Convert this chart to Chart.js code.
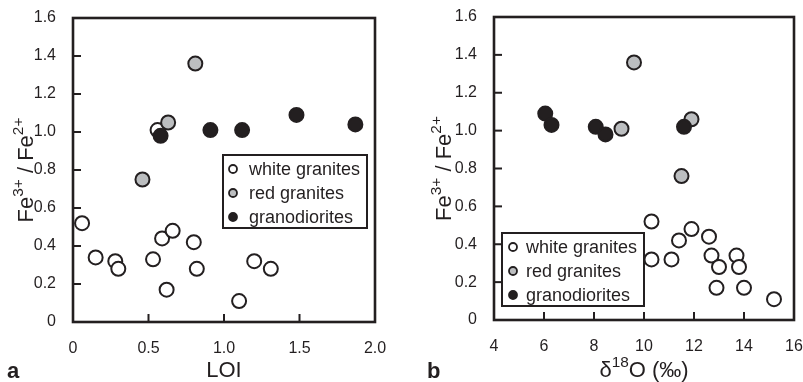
<!DOCTYPE html>
<html>
<head>
<meta charset="utf-8">
<script src="https://cdn.jsdelivr.net/npm/chart.js@4/dist/chart.umd.min.js"></script>
<style>
  body{margin:0;background:#fff;}
  #wrap{position:relative;width:803px;height:382px;}
  canvas{position:absolute;top:0;}
</style>
</head>
<body>
<div id="wrap">
  <canvas id="chartA" width="400" height="382" style="left:0"></canvas>
  <canvas id="chartB" width="403" height="382" style="left:400px"></canvas>
</div>
<script>
// panel a : LOI vs Fe3+/Fe2+
const whiteLoi = [0.06,0.15,0.28,0.30,0.53,0.59,0.66,0.62,0.80,0.82,1.10,1.20,1.31,0.56];
const whiteFeA = [0.52,0.34,0.32,0.28,0.33,0.44,0.48,0.17,0.42,0.28,0.11,0.32,0.28,1.01];
const redLoi = [0.81,0.63,0.46];
const redFeA = [1.36,1.05,0.75];
const granoLoi = [0.58,0.91,1.12,1.48,1.87];
const granoFeA = [0.98,1.01,1.01,1.09,1.04];

// panel b : d18O vs Fe3+/Fe2+
const whiteD18 = [10.3,10.3,11.1,11.4,11.9,12.6,12.7,13.0,12.9,13.7,13.8,14.0,15.2];
const whiteFeB = [0.52,0.32,0.32,0.42,0.48,0.44,0.34,0.28,0.17,0.34,0.28,0.17,0.11];
const redD18 = [9.6,9.1,11.9,11.5];
const redFeB = [1.36,1.01,1.06,0.76];
const granoD18 = [6.05,6.3,8.07,8.46,11.6];
const granoFeB = [1.09,1.03,1.02,0.98,1.02];

const legendNames = ['white granites','red granites','granodiorites'];
const yTicks = [0,0.2,0.4,0.6,0.8,1.0,1.2,1.4,1.6];
const loiTicks = [0,0.5,1,1.5,2];
const d18Ticks = [4,6,8,10,12,14,16];

const ink = '#231f20';
const fills = ['#ffffff','#bcbec0','#231f20'];
const fontFam = '"Liberation Sans", Arial, Helvetica, sans-serif';

function pts(xs, ys){
    return xs.map((x,i)=>({x:x, y:ys[i]}));
}

function fmt(v){
    return v===0 ? '0' : v.toFixed(1);
}

// draws text made of normal and superscript pieces, centred on 0,0
function richText(ctx, parts, size){
    var w = 0;
    parts.forEach(p=>{
        ctx.font = (p.sup ? size*0.7 : size) + 'px ' + fontFam;
        p.w = ctx.measureText(p.t).width;
        w += p.w;
    });
    var x = -w/2;
    ctx.textBaseline = 'alphabetic';
    ctx.textAlign = 'left';
    parts.forEach(p=>{
        ctx.font = (p.sup ? size*0.7 : size) + 'px ' + fontFam;
        ctx.fillText(p.t, x, p.sup ? size*0.35 - size*0.42 : size*0.35);
        x += p.w;
    });
}

const decor = {
    id:'decor',
    afterDraw(chart, args, o){
        const ctx = chart.ctx, a = chart.chartArea;
        const sx = chart.scales.x, sy = chart.scales.y;
        ctx.save();
        ctx.fillStyle = ink;
        ctx.strokeStyle = ink;

        // inward tick marks, placed by the scales
        for(let i=0;i<sx.ticks.length;i++){
            const px = sx.getPixelForTick(i);
            ctx.fillRect(px-1, a.bottom-8, 2, 8);
        }
        for(let i=0;i<sy.ticks.length;i++){
            const py = sy.getPixelForTick(i);
            ctx.fillRect(a.left, py-1, 8, 2);
        }

        ctx.lineWidth = 2.6;
        ctx.strokeRect(a.left, a.top, a.right-a.left, a.bottom-a.top);

        // y title
        ctx.save();
        ctx.translate(o.yTitleX, (a.top+a.bottom)/2);
        ctx.rotate(-Math.PI/2);
        richText(ctx, [{t:'Fe'},{t:'3+',sup:true},{t:' / Fe'},{t:'2+',sup:true}], 22);
        ctx.restore();

        // x title
        ctx.save();
        ctx.translate((a.left+a.right)/2, o.xTitleY);
        richText(ctx, o.xTitle, 22);
        ctx.restore();

        // panel letter
        ctx.font = 'bold 22px ' + fontFam;
        ctx.textAlign = 'left';
        ctx.textBaseline = 'alphabetic';
        ctx.fillText(o.letter, o.letterX, 378);

        // legend box
        const L = o.legend;
        ctx.lineWidth = 2;
        ctx.strokeRect(L.x, L.y, L.w, L.h);
        ctx.font = '18px ' + fontFam;
        ctx.textBaseline = 'middle';
        legendNames.forEach((name,i)=>{
            const cy = L.y + 14 + i*24;
            ctx.beginPath();
            ctx.arc(L.x + L.mx, cy, 4, 0, Math.PI*2);
            ctx.fillStyle = fills[i];
            ctx.fill();
            ctx.lineWidth = 1.8;
            ctx.stroke();
            ctx.fillStyle = ink;
            ctx.fillText(name, L.x + L.tx, cy+1);
        });
        ctx.restore();
    }
};

function makeChart(id, sets, xOpt, pad, yWidth, xHeight, deco){
    const tickFont = {family: fontFam, size: 16};
    return new Chart(document.getElementById(id), {
        type:'scatter',
        data:{
            datasets: sets.map(s=>({
                data: s.data,
                pointRadius: 7,
                pointBackgroundColor: s.fill,
                pointBorderColor: ink,
                pointBorderWidth: 2,
                pointHoverRadius: 7
            }))
        },
        options:{
            responsive:false,
            animation:false,
            layout:{padding:pad},
            plugins:{legend:{display:false}, tooltip:{enabled:false}, decor:deco},
            scales:{
                x:{
                    type:'linear', min:xOpt.min, max:xOpt.max,
                    grid:{display:false}, border:{display:false},
                    afterBuildTicks: s=>{ s.ticks = xOpt.ticks.map(v=>({value:v})); },
                    ticks:{autoSkip:false, padding:9, color:ink, font:tickFont, callback:xOpt.fmt},
                    afterFit: s=>{ s.height = xHeight; s.paddingLeft = 0; s.paddingRight = 0; }
                },
                y:{
                    type:'linear', min:0, max:1.6,
                    grid:{display:false}, border:{display:false},
                    afterBuildTicks: s=>{ s.ticks = yTicks.map(v=>({value:v})); },
                    ticks:{autoSkip:false, padding:9, color:ink, font:tickFont, callback:fmt},
                    afterFit: s=>{ s.width = yWidth; s.paddingTop = 0; s.paddingBottom = 0; }
                }
            }
        },
        plugins:[decor]
    });
}

// dataset 0 is drawn on top, so white granites go last
makeChart('chartA', [
    {data: pts(granoLoi, granoFeA), fill: fills[2]},
    {data: pts(redLoi, redFeA), fill: fills[1]},
    {data: pts(whiteLoi, whiteFeA), fill: fills[0]}
], {min:0, max:2, ticks:loiTicks, fmt:fmt},
   {top:18, right:25, left:0, bottom:0}, 73, 60,
   {yTitleX:25, xTitleY:369, xTitle:[{t:'LOI'}], letter:'a', letterX:7,
    legend:{x:223, y:155, w:144, h:73, mx:10, tx:26}});

makeChart('chartB', [
    {data: pts(granoD18, granoFeB), fill: fills[2]},
    {data: pts(redD18, redFeB), fill: fills[1]},
    {data: pts(whiteD18, whiteFeB), fill: fills[0]}
], {min:4, max:16, ticks:d18Ticks, fmt:v=>String(v)},
   {top:17, right:6, left:0, bottom:0}, 94, 62,
   {yTitleX:43, xTitleY:369, xTitle:[{t:'\u03b4'},{t:'18',sup:true},{t:'O (\u2030)'}], letter:'b', letterX:27,
    legend:{x:102, y:233, w:142, h:73, mx:11, tx:24}});
</script>
</body>
</html>
